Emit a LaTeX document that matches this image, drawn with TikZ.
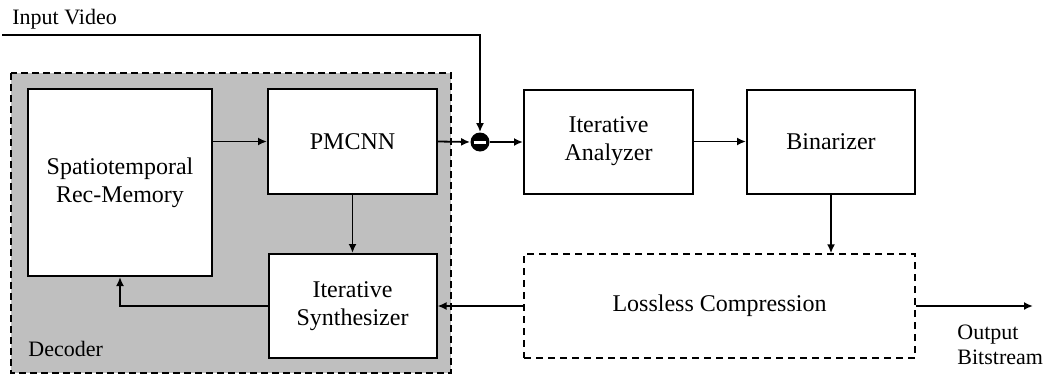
\documentclass[tikz,border=0pt]{standalone}
\usepackage{fontspec}
\setmainfont{Liberation Serif}
\usetikzlibrary{arrows.meta}
\begin{document}
\begin{tikzpicture}[x=0.5pt, y=-0.5pt, font=\fontsize{12}{14}\selectfont,
          >={Latex[length=4.5pt,width=4pt]},
          blk/.style={draw, line width=1pt, fill=white, align=center, inner sep=0pt},
          lnk/.style={line width=0.9pt},
          lbl/.style={font=\fontsize{11}{12.5}\selectfont, inner sep=0pt}]
        \useasboundingbox (0,0) rectangle (1047,375);
        % Decoder area: gray, dashed border
        \draw[fill=black!25, line width=1.2pt, dash pattern=on 3.5pt off 2pt] (11,73) rectangle (451,373);
        \node[lbl, anchor=base west] (declbl) at (28,356) {Decoder};
        % blocks (centres and sizes in px of the reference)
        \node[blk, minimum width=92pt, minimum height=93.5pt] (mem) at (120,182.5) {Spatiotemporal\\Rec-Memory};
        \node[blk, minimum width=84.5pt, minimum height=52.5pt] (pmc) at (352.5,141.5) {PMCNN};
        \node[blk, minimum width=84pt, minimum height=52pt] (syn) at (352.5,306) {Iterative\\Synthesizer};
        \node[blk, minimum width=84.5pt, minimum height=52pt] (ana) at (608.5,141.5) {Iterative\\Analyzer};
        \node[blk, minimum width=84pt, minimum height=52pt] (bin) at (831,141.5) {Binarizer};
        \node[blk, line width=0.7pt, dash pattern=on 3.5pt off 2.5pt, minimum width=195.5pt, minimum height=52pt] (llc) at (719.5,306) {Lossless Compression};
        % subtractor
        \node[circle, fill=black, minimum size=9.5pt, inner sep=0pt] (sub) at (480,142) {};
        \draw[white, line width=1.5pt] ([xshift=-3.2pt]sub.center) -- ([xshift=3.2pt]sub.center);
        % input and output
        \coordinate (vin) at (2,35);
        \node[lbl, anchor=base west] (vinlbl) at (12,25) {Input Video};
        \coordinate (bout) at (1033,306);
        \node[lbl, anchor=north west, align=left] (boutlbl) at (957,325) {Output\\Bitstream};
        % connectors
        \draw[lnk, ->] (vin) -| (sub.north);
        \draw[lnk, ->] (mem.east |- pmc.west) -- (pmc.west);
        \draw[lnk, ->] (pmc.east) -- (sub.west);
        \draw[lnk, ->] (sub.east) -- (ana.west |- sub.east);
        \draw[lnk, ->] (ana.east) -- (bin.west);
        \draw[lnk, ->] (bin.south) -- (llc.north -| bin.south);
        \draw[lnk, ->] (pmc.south) -- (syn.north);
        \draw[lnk, ->] (llc.west) -- (syn.east);
        \draw[lnk, ->] (syn.west) -| (mem.south);
        \draw[lnk, ->] (llc.east) -- (bout);
      \end{tikzpicture}
\end{document}
